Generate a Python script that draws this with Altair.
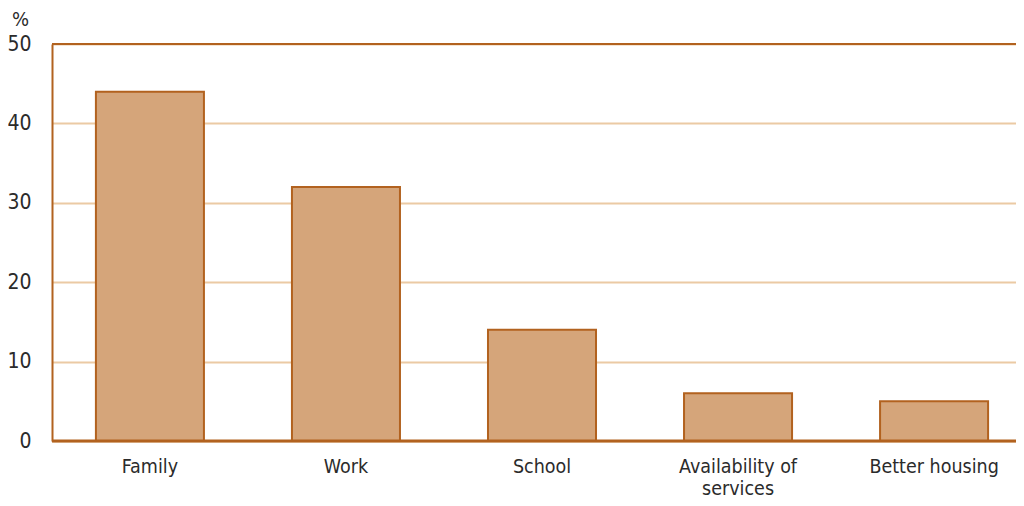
import altair as alt
import pandas as pd

categories = ["Family", "Work", "School", "Availability of services", "Better housing"]
values = [44, 32, 14, 6, 5]
y_ticks = [0, 10, 20, 30, 40, 50]

FILL = "#d5a57a"
BROWN = "#b2621f"
GRID = "#ebcaa4"
TEXT = "#2b2b2b"
FONT = "DejaVu Sans Condensed, Liberation Sans Narrow, Roboto, sans-serif"

df = pd.DataFrame({"cat": categories, "val": values})
yscale = alt.Scale(domain=[0, 50], nice=False)

yaxis = alt.Axis(
    values=y_ticks, title="%", titleAngle=0, titleAlign="center",
    titleBaseline="middle", titleX=-32, titleY=-25,
    titleFontSize=20, titleFontWeight="normal", titleColor=TEXT, titleFont=FONT,
    ticks=False, labelPadding=21, labelFontSize=21, labelColor=TEXT, labelFont=FONT,
    domainColor=BROWN, domainWidth=2,
    grid=True, gridColor=GRID, gridWidth=2,
)

bars = alt.Chart(df).mark_bar(fill=FILL, stroke=BROWN, strokeWidth=2).encode(
    x=alt.X(
        "cat:N",
        sort=categories,
        scale=alt.Scale(range=[0, 980], paddingInner=0.449, paddingOuter=0.224),
        axis=alt.Axis(
            title=None, labelAngle=0, ticks=False, domain=False,
            labelFontSize=19.5, labelColor=TEXT, labelFont=FONT,
            labelPadding=16, labelLineHeight=22,
            labelExpr="datum.value == 'Availability of services' ? ['Availability of', 'services'] : datum.value",
        ),
    ),
    y=alt.Y("val:Q", scale=yscale, axis=yaxis, title="%"),
)

zero = alt.Chart(pd.DataFrame({"val": [0]})).mark_rule(color=BROWN, strokeWidth=3).encode(
    y=alt.Y("val:Q", scale=yscale, axis=yaxis, title="%")
)
top = alt.Chart(pd.DataFrame({"val": [50]})).mark_rule(color=BROWN, strokeWidth=2).encode(
    y=alt.Y("val:Q", scale=yscale, axis=yaxis, title="%")
)

chart = alt.layer(bars, zero, top).properties(
    width=964, height=397,
    autosize=alt.AutoSizeParams(type="none"),
    padding={"left": 44, "top": 36, "right": 0, "bottom": 57},
).configure_view(stroke=None)

chart.save("out.html", embed_options={"renderer": "svg", "actions": False})
